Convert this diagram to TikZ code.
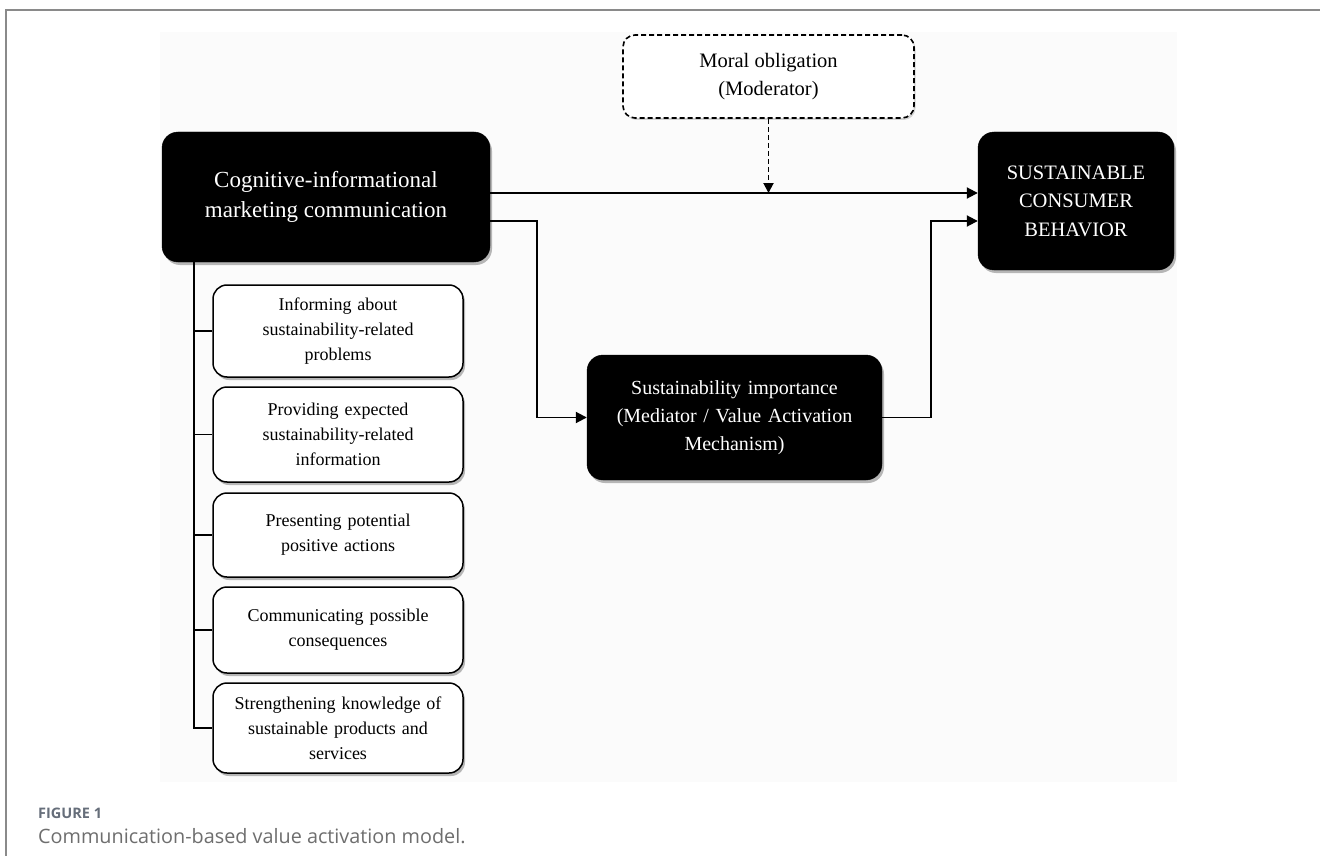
\documentclass[tikz,border=0pt]{standalone}
\usepackage{fontspec}
\setmainfont{Liberation Serif}
\newfontfamily\capfont{Open Sans}
\usetikzlibrary{arrows.meta,shadows,calc}
\definecolor{framegray}{HTML}{8A8A8A}
\definecolor{figblue}{HTML}{666E7A}
\definecolor{capgray}{HTML}{6E6E6E}
\begin{document}
\begin{tikzpicture}[x=1pt,y=-1pt,
  blackbox/.style={draw=black,fill=black,text=white,rounded corners=16pt,align=center,inner sep=0pt,
    drop shadow={shadow xshift=2pt,shadow yshift=-3pt,fill=black!55,opacity=0.5}},
  whitebox/.style={draw=black,fill=white,line width=1.5pt,rounded corners=14pt,align=center,inner sep=0pt,
    minimum width=250pt,text width=240pt,font=\fontsize{18}{25}\selectfont,
    drop shadow={shadow xshift=2pt,shadow yshift=-3pt,fill=black!55,opacity=0.5}},
  dashbox/.style={draw=black,fill=white,line width=1.6pt,dash pattern=on 5pt off 3pt,rounded corners=12pt,align=center,inner sep=0pt,
    drop shadow={shadow xshift=1.5pt,shadow yshift=-2pt,fill=black!40,opacity=0.4}},
  conn/.style={line width=1.9pt,draw=black},
  arr/.style={conn,-{Triangle[length=11pt,width=11pt]}},
  darr/.style={line width=1.9pt,dash pattern=on 5pt off 3pt,-{Triangle[length=10pt,width=10pt]}}
]
\useasboundingbox (0,0) rectangle (1320,856);
\fill[white] (0,0) rectangle (1320,856);
% faint background of the figure
\fill[black!1.5] (160,32) rectangle (1177,782);
% frame
\draw[framegray,line width=1.5pt] (1320,10) -- (6,10) -- (6,856);

% nodes
\node[dashbox,minimum width=291pt,minimum height=83pt,font=\fontsize{20.5}{28}\selectfont] (moral) at (768.5,76.5) {Moral obligation\\(Moderator)};
\node[blackbox,minimum width=328pt,minimum height=130pt,font=\fontsize{23}{30}\selectfont] (cog) at (326,197) {Cognitive-informational\\marketing communication};
\node[blackbox,minimum width=196pt,minimum height=138pt,font=\fontsize{20.5}{28.5}\selectfont] (scb) at (1076,201) {SUSTAINABLE\\CONSUMER\\BEHAVIOR};
\node[blackbox,minimum width=295pt,minimum height=125pt,text width=285pt,font=\fontsize{20}{28}\selectfont] (si) at (734.5,417.5) {Sustainability importance\\(Mediator / Value Activation\\Mechanism)};

\node[whitebox,minimum height=92pt] (b1) at (338,331) {Informing about\\sustainability-related\\problems};
\node[whitebox,minimum height=95pt] (b2) at (338,434.5) {Providing expected\\sustainability-related\\information};
\node[whitebox,minimum height=84pt] (b3) at (338,535) {Presenting potential\\positive actions};
\node[whitebox,minimum height=86pt] (b4) at (338,630) {Communicating possible\\consequences};
\node[whitebox,minimum height=90pt] (b5) at (338,728) {Strengthening knowledge of\\sustainable products and\\services};

% helper coordinates
\coordinate (ya) at (0,193);
\coordinate (yb) at (0,221);
\coordinate (ja) at (537,0);
\coordinate (jb) at (931,0);
\coordinate (tr) at (194,0);

% connectors
\draw[arr] (cog.east |- ya) -- (scb.west |- ya);
\draw[darr] (moral.south) -- (moral.south |- ya);
\draw[arr] (cog.east |- yb) -- (ja |- yb) -- (ja |- si.west) -- (si.west);
\draw[arr] (si.east) -- (jb |- si.east) -- (jb |- yb) -- (scb.west |- yb);

% trunk and branches
\draw[conn] (tr |- cog.south) -- (tr |- b5.west) -- (b5.west);
\draw[conn] (tr |- b1.west) -- (b1.west);
\draw[conn] (tr |- b2.west) -- (b2.west);
\draw[conn] (tr |- b3.west) -- (b3.west);
\draw[conn] (tr |- b4.west) -- (b4.west);

% caption
\node[anchor=base west,inner sep=0pt,text=figblue,font=\capfont\bfseries\fontsize{14.5}{18}\selectfont] (fig) at (38,818) {FIGURE 1};
\node[anchor=base west,inner sep=0pt,text=capgray,font=\capfont\fontsize{19.8}{24}\selectfont] (cap) at (38,843) {Communication-based value activation model.};
\end{tikzpicture}
\end{document}
